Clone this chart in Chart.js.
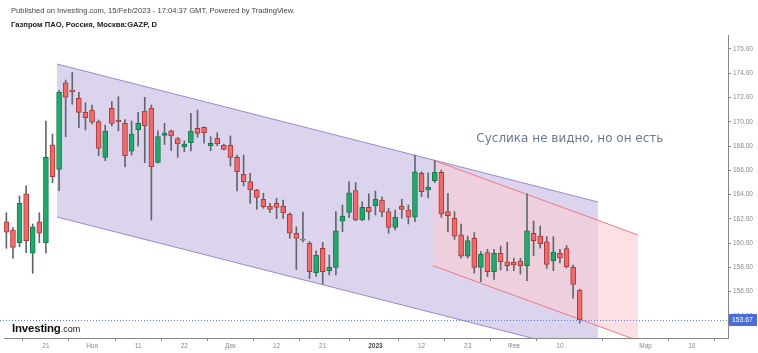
<!DOCTYPE html>
<html><head><meta charset="utf-8">
<script src="https://cdn.jsdelivr.net/npm/chart.js@4.4.0/dist/chart.umd.min.js"></script>
<style>
html,body{margin:0;padding:0;background:#fff;}
#wrap{position:relative;width:758px;height:353px;overflow:hidden;background:#fff;}
#c{position:absolute;left:0;top:0;}
.txt{position:absolute;font-family:"Liberation Sans",Arial,sans-serif;white-space:nowrap;line-height:1;}
</style></head><body>
<div id="wrap">
<canvas id="c" width="758" height="353"></canvas>
<div class="txt" style="left:11px;top:7px;font-size:7.6px;color:#444;">Published on Investing.com, 15/Feb/2023 - 17:04:37 GMT, Powered by TradingView.</div>
<div class="txt" style="left:11px;top:21px;font-size:7.6px;font-weight:bold;color:#222;">Газпром ПАО, Россия, Москва:GAZP, D</div>
<div class="txt" style="left:12px;top:319px;color:#111;"><span style="font-size:11.5px;font-weight:bold;letter-spacing:-0.2px;">Investing</span><span style="font-size:9px;">.com</span></div>
</div>
<script>
// ---- data (daily candles, trading days) ----
const dates = ['2022-10-13','2022-10-14','2022-10-17','2022-10-18','2022-10-19','2022-10-20','2022-10-21','2022-10-24','2022-10-25','2022-10-26','2022-10-27','2022-10-28','2022-10-31',
'2022-11-01','2022-11-02','2022-11-03','2022-11-07','2022-11-08','2022-11-09','2022-11-10','2022-11-11','2022-11-14','2022-11-15','2022-11-16','2022-11-17','2022-11-18','2022-11-21','2022-11-22','2022-11-23','2022-11-24','2022-11-25','2022-11-28','2022-11-29','2022-11-30',
'2022-12-01','2022-12-02','2022-12-05','2022-12-06','2022-12-07','2022-12-08','2022-12-09','2022-12-12','2022-12-13','2022-12-14','2022-12-15','2022-12-16','2022-12-19','2022-12-20','2022-12-21','2022-12-22','2022-12-23','2022-12-26','2022-12-27','2022-12-28','2022-12-29','2022-12-30',
'2023-01-03','2023-01-04','2023-01-05','2023-01-06','2023-01-09','2023-01-10','2023-01-11','2023-01-12','2023-01-13','2023-01-16','2023-01-17','2023-01-18','2023-01-19','2023-01-20','2023-01-23','2023-01-24','2023-01-25','2023-01-26','2023-01-27','2023-01-30','2023-01-31',
'2023-02-01','2023-02-02','2023-02-03','2023-02-06','2023-02-07','2023-02-08','2023-02-09','2023-02-10','2023-02-13','2023-02-14','2023-02-15'];
const open  = [161.76,161.08,160.03,164.05,159.16,161.76,160.03,168.09,166.08,173.22,172.62,171.94,170.78,170.97,170.01,167.07,171.11,170.12,169.87,167.57,169.32,170.89,171.11,166.64,168.87,169.26,168.62,167.95,168.28,169.46,169.54,168.03,168.64,168.06,168.06,167.07,165.67,165.08,164.38,163.61,163.06,163.28,163.06,162.37,160.81,160.30,159.98,157.56,159.57,157.72,158.00,161.80,162.52,164.33,161.90,162.95,163.06,163.55,162.59,161.30,163.06,162.73,162.13,165.75,164.38,165.14,165.84,162.59,162.04,160.67,158.93,160.39,158.00,159.21,157.64,159.16,158.46,158.42,158.52,158.14,160.81,160.58,160.11,158.56,159.16,159.54,158.00,156.13];
const high  = [162.50,161.27,163.88,164.71,161.57,162.50,170.06,168.99,172.60,173.44,174.08,172.43,171.57,171.38,170.15,169.73,171.66,172.07,170.19,170.06,170.77,172.02,171.38,169.26,169.87,169.32,168.72,168.42,170.70,170.97,169.59,168.77,169.10,168.17,168.83,167.26,167.26,165.75,164.43,164.10,163.28,163.68,163.55,162.50,161.35,162.56,160.13,159.37,160.06,159.02,162.59,163.14,165.04,164.99,163.41,164.05,164.29,163.82,162.87,162.73,163.61,163.14,167.26,165.88,165.80,166.79,166.02,164.10,162.59,161.57,160.58,160.87,159.29,159.49,159.49,159.76,160.06,158.75,158.75,164.05,161.82,161.41,160.53,160.53,159.49,159.80,158.19,156.20];
const low   = [159.57,158.75,159.70,159.21,157.51,160.03,159.16,164.98,164.32,168.77,171.44,169.51,169.32,169.82,167.20,166.79,169.65,169.26,166.27,167.26,168.00,166.63,161.90,166.58,168.13,167.63,167.07,167.53,167.59,168.72,168.23,167.62,168.03,167.67,166.35,164.29,164.71,163.28,162.78,162.87,162.50,162.01,162.04,160.39,157.82,160.09,157.08,157.26,156.63,157.37,157.37,160.94,162.09,161.85,161.85,161.90,162.31,162.17,160.81,161.08,162.04,161.57,161.76,163.82,163.72,164.98,162.13,160.94,160.30,158.75,158.77,157.53,156.82,157.23,157.01,157.78,157.72,157.72,157.45,156.90,158.98,159.59,157.92,157.72,158.36,157.95,155.45,153.41];
const close = [160.89,159.65,163.28,160.20,161.35,160.81,167.07,165.47,172.43,172.02,172.48,170.78,170.34,169.96,167.81,169.24,169.87,170.01,167.20,168.99,169.90,169.65,166.30,168.79,169.06,168.84,168.18,168.17,169.24,169.05,169.10,168.23,168.17,167.73,167.07,165.88,165.06,164.38,163.77,163.00,162.78,162.95,162.48,160.81,160.39,160.25,157.64,159.02,157.64,158.00,161.00,162.23,164.15,161.90,162.95,162.59,163.61,162.54,161.30,162.13,162.78,162.13,165.88,164.24,164.60,165.84,162.40,162.26,160.58,158.93,160.20,158.00,159.07,157.64,159.16,158.46,158.14,158.19,158.14,161.00,160.20,159.95,158.25,159.25,158.77,158.05,156.60,153.67];

// x tick labels (bar index -> label)
const xTickPos  = [6, 13, 20, 27, 34, 41, 48, 56, 63, 70, 77, 84, 97, 104];
const xTickText = ['21','Ноя','11','22','Дек','12','21','2023','12','23','Фев','10','Мар','10'];
// y tick values
const yTicks = [154,156,158,160,162,164,166,168,170,172,174,176];

// drawn channels: [bar index, price]
const purpleUpper = [[7.68,174.76],[89.77,163.39]];
const purpleLower = [[7.68,162.15],[89.77,150.78]];
const pinkUpper   = [[64.7,166.85],[95.84,160.67]];
const pinkLower   = [[64.7,158.14],[95.84,151.96]];

const noteText = 'Суслика не видно, но он есть';
const notePos  = [85.5, 168.6];

// ---- chart ----
const UP='#22a86c', UPB='#16784b', DN='#ee6b6b', DNB='#a83a3a', WICK='#62666f';
const isUp = i => close[i] >= open[i];
const idx = close.map((_, i) => i);
const lastPrice = close[close.length-1];
const pts = a => a.map(p => ({x:p[0], y:p[1]}));

const overlay = {
  id:'overlay',
  afterDatasetsDraw(chart){
    const {ctx, chartArea:a, scales:{x,y}} = chart;
    const py = Math.round(y.getPixelForValue(lastPrice)) + 0.5;
    ctx.save();
    ctx.strokeStyle = '#5d7fda'; ctx.lineWidth = 1; ctx.setLineDash([1,2]);
    ctx.beginPath(); ctx.moveTo(0, py); ctx.lineTo(a.right, py); ctx.stroke();
    ctx.setLineDash([]);
    ctx.font = '12px "DejaVu Sans", sans-serif';
    ctx.fillStyle = '#6a7a8c'; ctx.textAlign = 'center'; ctx.textBaseline = 'middle';
    ctx.fillText(noteText, x.getPixelForValue(notePos[0]), y.getPixelForValue(notePos[1]));
    ctx.restore();
  },
  afterDraw(chart){
    const {ctx, chartArea:a, scales:{y}} = chart;
    const py = Math.round(y.getPixelForValue(lastPrice));
    ctx.save();
    ctx.fillStyle = '#4a6ed6';
    ctx.fillRect(a.right+1, py-6, 28, 12);
    ctx.fillStyle = '#fff'; ctx.font = '6.8px "Liberation Sans", Arial, sans-serif';
    ctx.textAlign = 'left'; ctx.textBaseline = 'middle';
    ctx.fillText(lastPrice.toFixed(2), a.right+4, py+0.5);
    ctx.restore();
  }
};

new Chart(document.getElementById('c'), {
  type:'bar',
  data:{
    datasets:[
      {type:'line', data:pts(purpleUpper), borderColor:'#9a88cf', borderWidth:1, pointRadius:0, fill:false, order:10},
      {type:'line', data:pts(purpleLower), borderColor:'#9a88cf', borderWidth:1, pointRadius:0, fill:'-1', backgroundColor:'rgba(150,130,200,0.34)', order:10},
      {type:'line', data:pts(pinkUpper), borderColor:'#ec7a84', borderWidth:1, pointRadius:0, fill:false, order:9},
      {type:'line', data:pts(pinkLower), borderColor:'#ec7a84', borderWidth:1, pointRadius:0, fill:'-1', backgroundColor:'rgba(250,205,212,0.62)', order:9},
      {label:'wick', data: idx.map(i => ({x:i, y:[low[i], high[i]]})), backgroundColor:WICK, barThickness:1, grouped:false, order:2, minBarLength:1},
      {label:'body', data: idx.map(i => ({x:i, y:[open[i], close[i]]})),
        backgroundColor: c => isUp(c.dataIndex) ? UP : DN,
        borderColor: c => isUp(c.dataIndex) ? UPB : DNB,
        borderWidth:1, borderSkipped:false, barThickness:5, grouped:false, minBarLength:1, order:1}
    ]
  },
  options:{
    responsive:false, animation:false, devicePixelRatio:1, events:[],
    layout:{padding:{top:35, left:4, right:0, bottom:0}},
    plugins:{legend:{display:false}, tooltip:{enabled:false}},
    scales:{
      x:{type:'linear', min:-0.36, max:109.5, offset:false,
        grid:{display:true, drawOnChartArea:false, drawTicks:true, tickLength:3, color:'#888'},
        border:{display:true, color:'#888'},
        afterBuildTicks: s => { s.ticks = xTickPos.map(v => ({value:v})); },
        afterFit: s => { s.height = 15; },
        ticks:{autoSkip:false, maxRotation:0, padding:1,
          color: c => (c.tick && c.tick.value === 56) ? '#444' : '#888',
          font: c => ({family:'"Liberation Sans", Arial, sans-serif', size:6.5, weight:(c.tick && c.tick.value === 56) ? 'bold' : 'normal'}),
          callback: v => { const k = xTickPos.indexOf(v); return k >= 0 ? xTickText[k] : ''; }}
      },
      y:{type:'linear', position:'right', min:152.175, max:177.154,
        grid:{display:true, drawOnChartArea:false, drawTicks:true, tickLength:3, color:'#888'},
        border:{display:true, color:'#888'},
        afterBuildTicks: s => { s.ticks = yTicks.map(v => ({value:v})); },
        afterFit: s => { s.width = 30; },
        ticks:{padding:2, color:'#888', font:{family:'"Liberation Sans", Arial, sans-serif', size:6.5},
          callback: v => v.toFixed(2)}
      }
    }
  },
  plugins:[overlay]
});
</script>
</body></html>
